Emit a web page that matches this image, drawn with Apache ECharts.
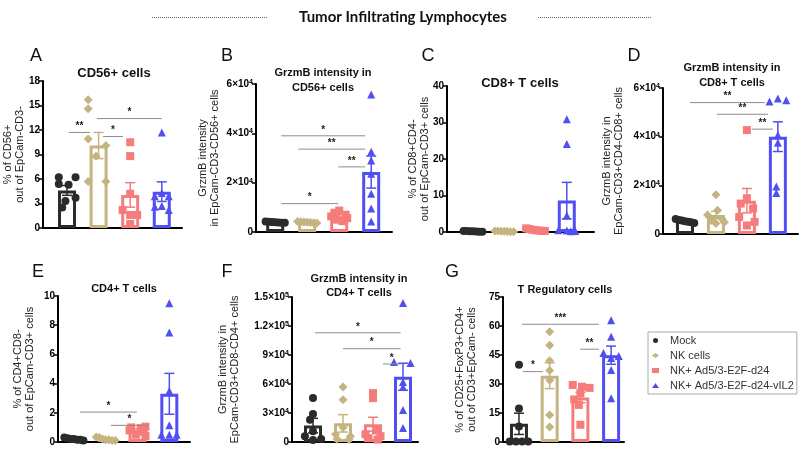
<!DOCTYPE html>
<html><head><meta charset="utf-8">
<script src="https://cdn.jsdelivr.net/npm/echarts@6/dist/echarts.min.js"></script>
<style>html,body{margin:0;padding:0;background:#fff}#c{width:800px;height:451px}</style>
</head><body><div id="c"></div>
<script>
const groups = ['Mock', 'NK cells', 'NK+ Ad5/3-E2F-d24', 'NK+ Ad5/3-E2F-d24-vIL2'];

// ---- Panel A: CD56+ cells ----
const aTicks = [0, 3, 6, 9, 12, 15, 18];
const aPoints = [[6.2,6.2,5.4,5.3,3.7,3.3,2.5],[15.7,14.6,10.9,10.1,8.8,5.7,5.7],[10.5,8.8,4.2,2.2,1.6,1.6,0.5],[11.7,4.3,3.9,3.9,2.7,2.6,2.2]];
const aMeans = [4.6, 10.1, 4.05, 4.45];
const aSems = [0.6, 1.6, 1.5, 1.2];
const aSig = [[0.06,0.73,11.7,2],[1.14,1.77,11.2,1],[0.95,3.0,13.4,1]];

// ---- Panel B: GrzmB in CD56+ ----
const bTicks = [0, 20000, 40000, 60000];
const bPoints = [[4300,4200,4100,4000,3900,3800,3700],[4300,4200,4100,4000,3900,3800,3600],[8700,7800,7000,6300,5600,5000,4400],[55700,32500,29000,23600,15500,9500,4300]];
const bMeans = [4000, 4000, 6400, 24300];
const bSems = [150, 150, 600, 6500];
const bSig = [[0.19,2.81,39000,1],[0.72,2.81,33600,2],[1.97,2.81,26400,2],[0.19,1.97,11500,1]];

// ---- Panel C: CD8+ T cells ----
const cTicks = [0, 10, 20, 30, 40];
const cPoints = [[0.3,0.25,0.2,0.2,0.15,0.1,0.1],[0.3,0.25,0.2,0.2,0.15,0.1,0.1],[1.0,0.8,0.6,0.5,0.4,0.3,0.3],[30.9,24.1,4.5,0.5,0.4,0.3,0.2]];
const cMeans = [0.2, 0.2, 0.55, 8.6];
const cSems = [0.03, 0.03, 0.1, 5.0];
const cSig = [];

// ---- Panel D: GrzmB in CD8+ ----
const dTicks = [0, 20000, 40000, 60000];
const dPoints = [[6200,5800,5500,5200,5000,4800,4500],[16100,9800,7800,6200,5500,4800,4300],[42700,14700,12500,10500,7000,5000,3500],[55700,55000,54500,40700,37500,19500,16800]];
const dMeans = [5300, 7800, 13700, 40000];
const dSems = [250, 1500, 5000, 6100];
const dSig = [[0.16,2.58,54000,2],[1.03,2.68,49200,2],[2.16,2.84,43100,2]];

// ---- Panel E: CD4+ T cells ----
const eTicks = [0, 2, 4, 6, 8, 10];
const ePoints = [[0.3,0.25,0.2,0.2,0.15,0.15,0.1],[0.35,0.3,0.2,0.15,0.15,0.1,0.1],[1.05,1.0,0.95,0.8,0.7,0.5,0.4],[9.5,7.5,3.5,1.15,0.5,0.5,0.5]];
const eMeans = [0.2, 0.2, 0.8, 3.3];
const eSems = [0.03, 0.04, 0.1, 1.4];
const eSig = [[0.19,1.98,2.05,1],[1.16,2.33,1.14,1]];

// ---- Panel F: GrzmB in CD4+ ----
const fTicks = [0, 30000, 60000, 90000, 120000, 150000];
const fPoints = [[45400,29000,23000,11000,6000,3000,2000],[56800,43700,15000,8000,6000,3000,2500],[50600,45400,12000,8000,6000,4000,2500],[143700,82700,81700,62000,57000,33000,14500]];
const fMeans = [17000, 19300, 18400, 67500];
const fSems = [7500, 9000, 7200, 14000];
const fSig = [[0.07,2.92,113000,1],[1.0,2.92,96500,1],[2.33,2.92,80700,1]];

// ---- Panel G: T regulatory cells ----
const gTicks = [0, 15, 30, 45, 60, 75];
const gPoints = [[40,17.3,8,0.3,0.3,0.3,0.3],[57,50,42,37,32,14,7.7],[29.5,28.6,28,25.2,22,19.2,8.9],[63,54.4,46,44.5,43.5,37.2,22.6]];
const gMeans = [9.4, 34.3, 23, 44.9];
const gSems = [5.5, 6.7, 2.7, 4.7];
const gSig = [[0.13,0.78,36.4,1],[0.1,2.6,60.9,3],[1.99,2.6,48,2]];

// ---- point spread (horizontal jitter within each bar) ----
const spread = [-0.3,-0.2,-0.1,0,0.1,0.2,0.3];
const aJitter = [[-0.26,0.27,-0.26,0.05,0.27,-0.05,-0.15],[-0.33,-0.33,-0.33,0.23,-0.08,-0.33,0.23],[0,0,0,-0.24,0,0.22,0],[0,0,-0.22,0.22,0,-0.22,0.22]];
const bJitter = [spread, spread, [0,-0.15,0.2,-0.25,0.25,-0.1,0.1], [0,0,0,0,0,0,0]];
const cJitter = [spread, spread, spread, [0,0,0,-0.27,0,0.27,0.13]];
const dJitter = [spread, [0,0.05,-0.27,0.2,-0.15,0.27,0], [0,0,-0.2,0.2,-0.25,0.25,0], [0,0.27,-0.27,0,0,-0.05,-0.05]];
const eJitter = [spread, spread, [0.25,-0.2,0.1,-0.25,0.2,-0.05,0.25], [0,0,0,0,-0.25,0.23,0]];
const fJitter = [[0,0,-0.1,0,-0.27,0.27,0],[0,0,0,-0.25,0.25,-0.2,0.2],[0,0,0.1,-0.25,0.25,-0.15,0.15],[0,-0.3,0.25,0,0,0,0]];
const gJitter = [[0,0,0,-0.3,-0.1,0.1,0.3],[0,0,0,0,0,0,0],[-0.25,0.05,0.3,0,-0.2,-0.05,0],[0,0,-0.25,0.25,0,0,0]];

// ---- styling / layout ----
const colors = ['#2b2b2b', '#c4b480', '#f67c7c', '#4f4ff2'];
const symbols = ['circle', 'diamond', 'rect', 'triangle'];
const symbolSizes = [8, 9, 8, 8];
const FONT = '"Liberation Sans", Arial, sans-serif';

const panels = [
  {ticks:aTicks, points:aPoints, jitter:aJitter, means:aMeans, sems:aSems, sig:aSig, box:[43,81,139,147], xr:[-0.76,3.64], name:'% of CD56+\nout of EpCam-CD3-', gap:17, sci:false},
  {ticks:bTicks, points:bPoints, jitter:bJitter, means:bMeans, sems:bSems, sig:bSig, box:[256,84,136,148], xr:[-0.6,3.65], name:'GrzmB intensity\nin EpCam-CD3-CD56+ cells', gap:35, sci:true},
  {ticks:cTicks, points:cPoints, jitter:cJitter, means:cMeans, sems:cSems, sig:cSig, box:[447,86,147,146], xr:[-0.83,3.87], name:'% of CD8+CD4-\nout of EpCam-CD3+ cells', gap:16, sci:false},
  {ticks:dTicks, points:dPoints, jitter:dJitter, means:dMeans, sems:dSems, sig:dSig, box:[663,88,135,146], xr:[-0.71,3.65], name:'GrzmB intensity in\nEpCam-CD3+CD4-CD8+ cells', gap:38, sci:true},
  {ticks:eTicks, points:ePoints, jitter:eJitter, means:eMeans, sems:eSems, sig:eSig, box:[58,296,132,146], xr:[-0.5,3.65], name:'% of CD4+CD8-\nout of EpCam-CD3+ cells', gap:22, sci:false},
  {ticks:fTicks, points:fPoints, jitter:fJitter, means:fMeans, sems:fSems, sig:fSig, box:[292,297,126,145], xr:[-0.7,3.5], name:'GrzmB intensity in\nEpCam-CD3+CD8-CD4+ cells', gap:51, sci:true},
  {ticks:gTicks, points:gPoints, jitter:gJitter, means:gMeans, sems:gSems, sig:gSig, box:[503,297,121,145], xr:[-0.52,3.42], name:'% of CD25+FoxP3+CD4+\nout of CD3+EpCam- cells', gap:25, sci:false}
];

function sciLabel(v) {
  if (v === 0) return '{m|0}';
  const e = Math.floor(Math.log10(v) + 1e-9);
  const m = +(v / Math.pow(10, e)).toFixed(2);
  return '{m|' + m + '×10}{e|' + e + '}';
}

const grid = [], xAxis = [], yAxis = [], series = [];
panels.forEach((p, i) => {
  grid.push({left:p.box[0], top:p.box[1], width:p.box[2], height:p.box[3], containLabel:false, outerBoundsMode:'none'});
  xAxis.push({type:'value', gridIndex:i, min:p.xr[0], max:p.xr[1],
    axisLine:{show:true, onZero:false, lineStyle:{color:'#000', width:2}},
    axisTick:{show:false}, axisLabel:{show:false}, splitLine:{show:false}});
  const step = p.ticks[1] - p.ticks[0];
  yAxis.push({type:'value', gridIndex:i, min:p.ticks[0], max:p.ticks[p.ticks.length-1], interval:step,
    name:p.name, nameLocation:'middle', nameGap:p.gap, nameMoveOverlap:false,
    nameTextStyle:{fontSize:11, color:'#222', fontFamily:FONT, lineHeight:12},
    axisLine:{show:true, onZero:false, lineStyle:{color:'#000', width:2}},
    axisTick:{show:true, length:4, lineStyle:{color:'#000', width:1.5}},
    splitLine:{show:false},
    axisLabel:{margin:3, color:'#000', fontWeight:'bold', fontSize:10, fontFamily:FONT,
      formatter: p.sci ? sciLabel : (v => '{m|' + v + '}'),
      rich:{m:{fontSize:10, fontWeight:'bold', fontFamily:FONT, color:'#000'},
            e:{fontSize:7, fontWeight:'bold', fontFamily:FONT, color:'#000', verticalAlign:'top', padding:[0,0,4,0]}}}
  });
  series.push({type:'bar', xAxisIndex:i, yAxisIndex:i, barWidth:18, silent:true, z:2,
    data: p.means.map((m, g) => ({value:[g, m], itemStyle:{color:'rgba(255,255,255,0)', borderColor:colors[g], borderWidth:3}}))});
  p.points.forEach((vals, g) => {
    series.push({type:'scatter', name:groups[g], xAxisIndex:i, yAxisIndex:i, z:3, silent:true,
      symbol:symbols[g], symbolSize:symbolSizes[g], itemStyle:{color:colors[g], opacity:1},
      data: vals.map((v, k) => [g + p.jitter[g][k], v])});
  });
  series.push({type:'custom', xAxisIndex:i, yAxisIndex:i, z:4, silent:true,
    data: p.means.map((m, g) => [g, m, p.sems[g]]),
    renderItem: (params, api) => {
      const g = api.value(0), m = api.value(1), s = api.value(2);
      const t = api.coord([g, m + s]), b = api.coord([g, m - s]);
      const st = {stroke:colors[g], lineWidth:1.5};
      return {type:'group', children:[
        {type:'line', shape:{x1:t[0], y1:t[1], x2:b[0], y2:b[1]}, style:st},
        {type:'line', shape:{x1:t[0]-5, y1:t[1], x2:t[0]+5, y2:t[1]}, style:st},
        {type:'line', shape:{x1:b[0]-5, y1:b[1], x2:b[0]+5, y2:b[1]}, style:st}
      ]};
    }});
  if (p.sig.length) series.push({type:'custom', xAxisIndex:i, yAxisIndex:i, z:4, silent:true,
    data: p.sig,
    renderItem: (params, api) => {
      const a = api.coord([api.value(0), api.value(2)]), b = api.coord([api.value(1), api.value(2)]);
      const n = api.value(3);
      return {type:'group', children:[
        {type:'line', shape:{x1:a[0], y1:a[1], x2:b[0], y2:a[1]}, style:{stroke:'#8c8c8c', lineWidth:1}},
        {type:'text', x:(a[0]+b[0])/2, y:a[1]-1, style:{text:'*'.repeat(n), fill:'#222', font:'bold 10px ' + FONT,
          align:'center', verticalAlign:'bottom', textAlign:'center', textVerticalAlign:'bottom'}}
      ]};
    }});
});

function txt(x, y, text, font, extra) {
  return Object.assign({type:'text', x:x, y:y, silent:true, style:Object.assign({text:text, font:font, fill:'#111',
    align:'center', verticalAlign:'middle', textAlign:'center', textVerticalAlign:'middle'}, extra || {})});
}
const letterFont = '18px ' + FONT;
const graphic = [
  txt(403, 17, 'Tumor Infiltrating Lymphocytes', 'bold 15px Lato, "Open Sans", sans-serif'),
  {type:'line', silent:true, shape:{x1:152, y1:17.5, x2:268, y2:17.5}, style:{stroke:'#666', lineWidth:1, lineDash:[1,1]}},
  {type:'line', silent:true, shape:{x1:538, y1:17.5, x2:652, y2:17.5}, style:{stroke:'#666', lineWidth:1, lineDash:[1,1]}},
  txt(36, 56, 'A', letterFont), txt(227, 56, 'B', letterFont), txt(428, 56, 'C', letterFont), txt(634, 56, 'D', letterFont),
  txt(38, 272, 'E', letterFont), txt(227, 272, 'F', letterFont), txt(452, 272, 'G', letterFont),
  txt(114, 73, 'CD56+ cells', 'bold 13px ' + FONT),
  txt(323, 80, 'GrzmB intensity in\nCD56+ cells', 'bold 11px ' + FONT, {lineHeight:15}),
  txt(520, 83, 'CD8+ T cells', 'bold 13px ' + FONT),
  txt(732, 75.5, 'GrzmB intensity in\nCD8+ T cells', 'bold 11px ' + FONT, {lineHeight:15}),
  txt(124, 289, 'CD4+ T cells', 'bold 11px ' + FONT),
  txt(359, 286, 'GrzmB intensity in\nCD4+ T cells', 'bold 11px ' + FONT, {lineHeight:14}),
  txt(565, 290, 'T Regulatory cells', 'bold 11px ' + FONT)
];

const chart = echarts.init(document.getElementById('c'));
chart.setOption({
  animation:false,
  backgroundColor:'#fff',
  grid, xAxis, yAxis, series, graphic,
  legend:{data:groups, orient:'vertical', left:648, top:332, padding:[3,3,3,4], itemGap:4, itemWidth:7, itemHeight:5,
    borderColor:'#aaa', borderWidth:1, selectedMode:false,
    textStyle:{fontSize:11, color:'#333', fontFamily:FONT, padding:[0,0,0,6]}}
});
</script></body></html>
